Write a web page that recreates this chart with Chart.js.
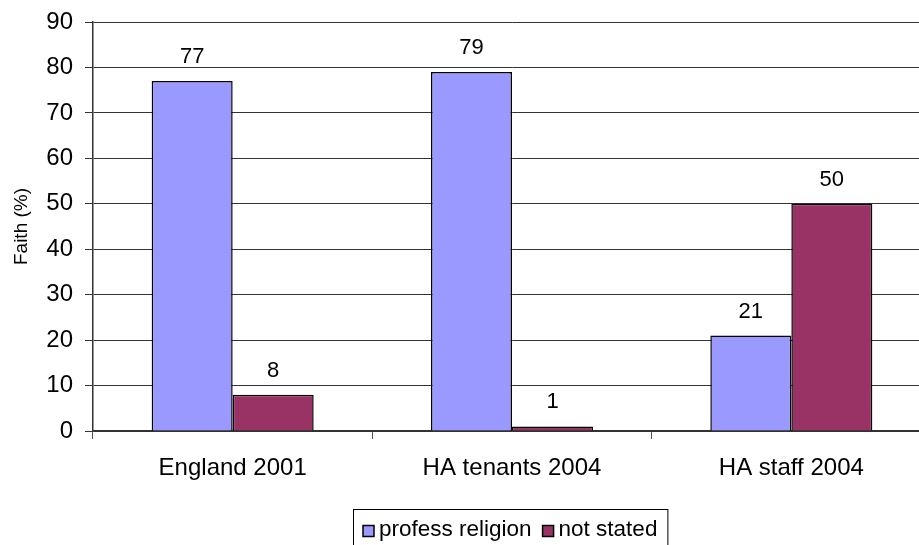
<!DOCTYPE html>
<html>
<head>
<meta charset="utf-8">
<script src="https://cdn.jsdelivr.net/npm/chart.js@4"></script>
<style>
  html, body { margin: 0; padding: 0; background: #fff; overflow: hidden; }
  #wrap { width: 935px; height: 545px; }
</style>
</head>
<body>
<div id="wrap"><canvas id="faithChart" width="935" height="545"></canvas></div>
<script>
const categories = ['England 2001', 'HA tenants 2004', 'HA staff 2004'];
const professReligion = [77, 79, 21];
const notStated = [8, 1, 50];
const seriesNames = ['profess religion', 'not stated'];
const seriesColors = ['#9999FF', '#993366'];

const FONT = 'Liberation Sans, Arial, sans-serif';

// value labels above each bar
const valueLabels = {
  id: 'valueLabels',
  afterDatasetsDraw(chart) {
    const ctx = chart.ctx;
    ctx.save();
    ctx.font = '22px ' + FONT;
    ctx.fillStyle = '#000';
    ctx.textAlign = 'center';
    ctx.textBaseline = 'alphabetic';
    chart.data.datasets.forEach((ds, i) => {
      chart.getDatasetMeta(i).data.forEach((bar, j) => {
        ctx.fillText(ds.data[j], bar.x, bar.y - 18);
      });
    });
    ctx.restore();
  }
};

// boxed legend under the axis, like the original
const boxLegend = {
  id: 'boxLegend',
  afterDraw(chart) {
    const ctx = chart.ctx;
    ctx.save();
    ctx.font = '22.5px ' + FONT;
    const sq = 11, gap = 5, between = 11, pad = 10;
    let w = pad;
    seriesNames.forEach((n, i) => {
      w += sq + gap + ctx.measureText(n).width;
      if (i < seriesNames.length - 1) w += between;
    });
    w += pad;
    const left = 353, top = 509, h = 40;
    ctx.strokeStyle = '#000';
    ctx.lineWidth = 1;
    ctx.strokeRect(left + 0.5, top + 0.5, w, h);
    let x = left + pad;
    const cy = top + 21;
    ctx.textBaseline = 'middle';
    seriesNames.forEach((n, i) => {
      ctx.fillStyle = seriesColors[i];
      ctx.fillRect(x, cy - sq / 2 + 1, sq, sq);
      ctx.strokeStyle = '#000';
      ctx.lineWidth = 1.5;
      ctx.strokeRect(x, cy - sq / 2 + 1, sq, sq);
      x += sq + gap;
      ctx.fillStyle = '#000';
      ctx.fillText(n, x, cy);
      x += ctx.measureText(n).width + between;
    });
    ctx.restore();
  }
};

new Chart(document.getElementById('faithChart'), {
  type: 'bar',
  data: {
    labels: categories,
    datasets: [
      {
        label: seriesNames[0],
        data: professReligion,
        backgroundColor: seriesColors[0],
        borderColor: '#000',
        borderWidth: 1.5
      },
      {
        label: seriesNames[1],
        data: notStated,
        backgroundColor: seriesColors[1],
        borderColor: '#000',
        borderWidth: 1.5
      }
    ]
  },
  options: {
    responsive: false,
    animation: false,
    devicePixelRatio: 1,
    layout: { padding: { top: 22, right: 4, left: 0, bottom: 0 } },
    datasets: { bar: { categoryPercentage: 0.58, barPercentage: 1 } },
    plugins: {
      legend: { display: false },
      tooltip: { enabled: false }
    },
    scales: {
      y: {
        min: 0,
        max: 90,
        ticks: {
          stepSize: 10,
          color: '#000',
          padding: 12,
          font: { family: FONT, size: 24 }
        },
        grid: {
          color: '#333',
          lineWidth: 1,
          tickLength: 8
        },
        border: { color: '#333', width: 1.5 },
        title: {
          display: true,
          text: 'Faith (%)',
          color: '#000',
          padding: { top: 10, bottom: 0 },
          font: { family: FONT, size: 19 }
        },
        afterFit(scale) {
          scale.width = 93;
          scale.paddingTop = 0;
          scale.paddingBottom = 0;
        }
      },
      x: {
        ticks: {
          color: '#000',
          padding: 15,
          font: { family: FONT, size: 24 }
        },
        grid: {
          drawOnChartArea: false,
          color: '#555',
          tickLength: 8
        },
        border: { color: '#333', width: 1.5 },
        afterFit(scale) { scale.height = 114; }
      }
    }
  },
  plugins: [valueLabels, boxLegend]
});
</script>
</body>
</html>
